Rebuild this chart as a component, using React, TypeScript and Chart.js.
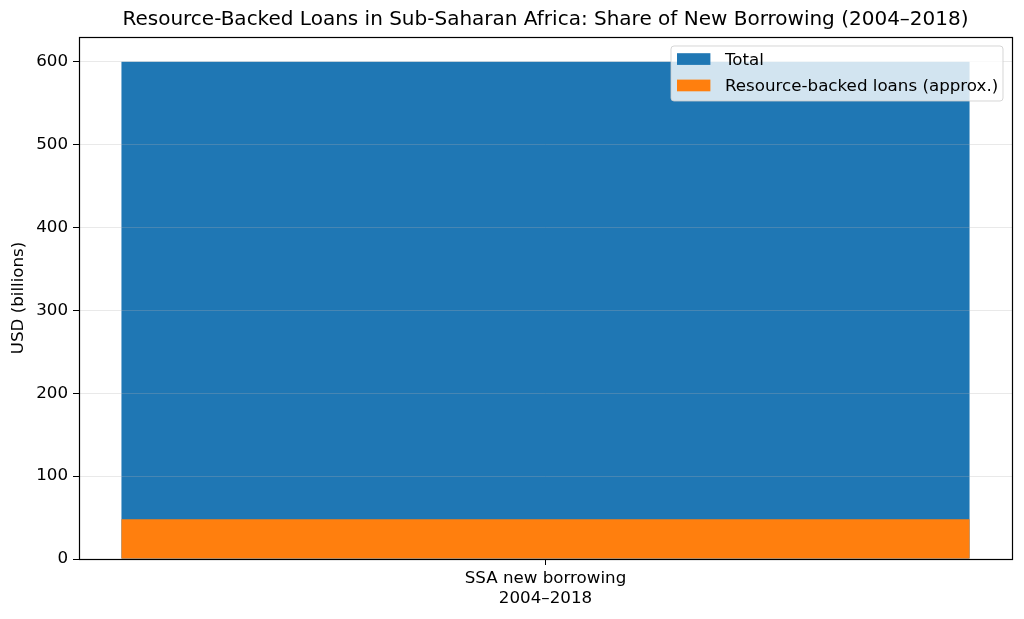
import React, { useEffect, useRef } from "react";
import { Chart, registerables } from "chart.js";

Chart.register(...registerables);

const categories: (string | string[])[] = [["SSA new borrowing", "2004–2018"]];
const totalValues = [600];
const resourceBackedValues = [48];
const seriesLabels = ["Total", "Resource-backed loans (approx.)"];
const yTicks = [0, 100, 200, 300, 400, 500, 600];
const titleText = "Resource-Backed Loans in Sub-Saharan Africa: Share of New Borrowing (2004–2018)";
const yAxisTitle = "USD (billions)";

const BLUE = "#1f77b4";
const ORANGE = "#ff7f0e";
const FONT = "'DejaVu Sans', sans-serif";
const FS = 16.7;

const framePlugin = {
  id: "frame",
  afterDraw(chart: any) {
    const { ctx, chartArea } = chart;
    const l = Math.round(chartArea.left) + 0.5;
    const r = Math.round(chartArea.right) + 0.5;
    const t = Math.round(chartArea.top) + 0.5;
    const b = Math.round(chartArea.bottom) + 0.5;
    ctx.save();
    ctx.strokeStyle = "#000";
    ctx.lineWidth = 1.2;
    ctx.strokeRect(l, t, r - l, b - t);
    ctx.restore();
  },
};

const legendPlugin = {
  id: "mplLegend",
  afterDraw(chart: any) {
    const { ctx, chartArea } = chart;
    const right = chartArea.right - 9;
    const top = chartArea.top + 9;
    const w = 332;
    const h = 55;
    const left = right - w;
    ctx.save();
    ctx.beginPath();
    const r = 3;
    ctx.moveTo(left + r, top);
    ctx.lineTo(left + w - r, top);
    ctx.quadraticCurveTo(left + w, top, left + w, top + r);
    ctx.lineTo(left + w, top + h - r);
    ctx.quadraticCurveTo(left + w, top + h, left + w - r, top + h);
    ctx.lineTo(left + r, top + h);
    ctx.quadraticCurveTo(left, top + h, left, top + h - r);
    ctx.lineTo(left, top + r);
    ctx.quadraticCurveTo(left, top, left + r, top);
    ctx.closePath();
    ctx.fillStyle = "rgba(255,255,255,0.8)";
    ctx.fill();
    ctx.strokeStyle = "rgba(204,204,204,0.8)";
    ctx.lineWidth = 1;
    ctx.stroke();
    ctx.font = `${FS}px ${FONT}`;
    ctx.textBaseline = "middle";
    ctx.textAlign = "left";
    chart.data.datasets.forEach((ds: any, i: number) => {
      const cy = top + 13 + i * 26.4;
      ctx.fillStyle = ds.backgroundColor;
      ctx.fillRect(left + 6, cy - 5.8, 33.4, 11.7);
      ctx.fillStyle = "#000";
      ctx.fillText(ds.label, left + 54, cy + 1.5);
    });
    ctx.restore();
  },
};

export default function App() {
  const ref = useRef<HTMLCanvasElement>(null);
  useEffect(() => {
    document.body.style.margin = "0";
    const chart = new Chart(ref.current!, {
      type: "bar",
      data: {
        labels: categories as any,
        datasets: [
          {
            label: seriesLabels[0],
            data: totalValues,
            backgroundColor: BLUE,
            grouped: false,
            order: 1,
            categoryPercentage: 1,
            barPercentage: 0.909,
          } as any,
          {
            label: seriesLabels[1],
            data: resourceBackedValues,
            backgroundColor: ORANGE,
            grouped: false,
            order: 0,
            categoryPercentage: 1,
            barPercentage: 0.909,
          } as any,
        ],
      },
      options: {
        animation: false,
        responsive: false,
        maintainAspectRatio: false,
        layout: { padding: { left: 0, right: 12, top: 0, bottom: 0 } },
        plugins: {
          legend: { display: false },
          tooltip: { enabled: false },
          title: {
            display: true,
            fullSize: false,
            text: titleText,
            color: "#000",
            font: { family: FONT, size: 20, weight: "normal" as any, lineHeight: 1.2 },
            padding: { top: 8, bottom: 5 },
          },
        },
        scales: {
          x: {
            stacked: false,
            offset: true,
            grid: {
              drawOnChartArea: false,
              offset: false,
              tickColor: "#000",
              tickLength: 6,
            },
            border: { display: false },
            ticks: {
              color: "#000",
              font: { family: FONT, size: FS, lineHeight: 1.2 },
              padding: 4,
              maxRotation: 0,
            },
            afterFit: (s: any) => {
              s.height = 60;
            },
          },
          y: {
            stacked: false,
            min: 0,
            max: 630,
            grid: {
              color: "rgba(176,176,176,0.28)",
              tickColor: "#000",
              tickLength: 6,
              z: 1,
            } as any,
            border: { display: false },
            ticks: {
              stepSize: 100,
              color: "#000",
              font: { family: FONT, size: FS },
              padding: 5,
            },
            afterBuildTicks: (s: any) => {
              s.ticks = yTicks.map((v) => ({ value: v }));
            },
            title: {
              display: true,
              text: yAxisTitle,
              color: "#000",
              font: { family: FONT, size: FS },
              padding: { top: 9, bottom: 6 },
            },
            afterFit: (s: any) => {
              s.width = 79;
            },
          },
        },
      },
      plugins: [framePlugin, legendPlugin],
    });
    return () => chart.destroy();
  }, []);
  return (
    <div style={{ width: 1024, height: 619 }}>
      <canvas ref={ref} width={1024} height={619} style={{ width: 1024, height: 619, display: "block" }} />
    </div>
  );
}
